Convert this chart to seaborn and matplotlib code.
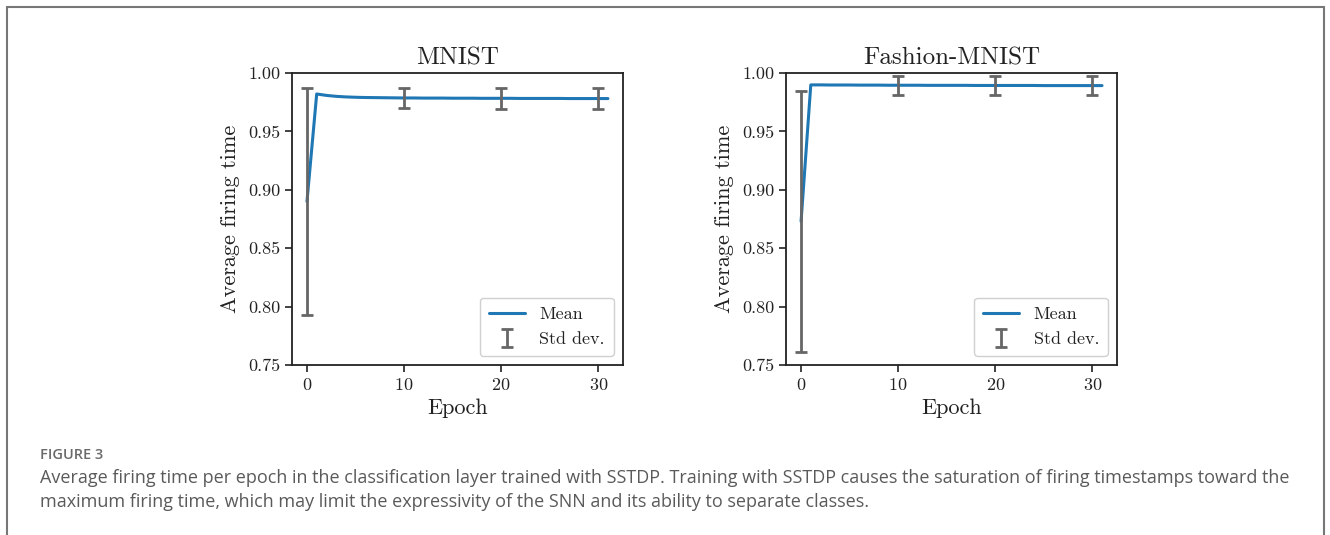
import matplotlib
matplotlib.use("Agg")
import matplotlib.pyplot as plt
import seaborn as sns
import pandas as pd
from matplotlib.lines import Line2D

# ---------------- data ----------------
epochs = list(range(32))
mnist_mean = [0.890, 0.9820, 0.9808, 0.9800, 0.9795, 0.9792, 0.9790, 0.9789,
              0.9788, 0.9787, 0.9786, 0.9786, 0.9785, 0.9785, 0.9785, 0.9784,
              0.9784, 0.9784, 0.9783, 0.9783, 0.9783, 0.9783, 0.9782, 0.9782,
              0.9782, 0.9782, 0.9782, 0.9781, 0.9781, 0.9781, 0.9781, 0.9781]
fashion_mean = [0.873, 0.9898, 0.9898, 0.9897, 0.9897, 0.9897, 0.9896, 0.9896,
                0.9896, 0.9895, 0.9895, 0.9895, 0.9895, 0.9894, 0.9894, 0.9894,
                0.9894, 0.9894, 0.9893, 0.9893, 0.9893, 0.9893, 0.9893, 0.9893,
                0.9893, 0.9892, 0.9892, 0.9892, 0.9892, 0.9892, 0.9892, 0.9892]
err_epochs = [0, 10, 20, 30]
mnist_std = [0.0974, 0.0086, 0.0088, 0.0090]
fashion_std = [0.1118, 0.0083, 0.0083, 0.0083]
titles = ["MNIST", "Fashion-MNIST"]
yticks = [0.75, 0.80, 0.85, 0.90, 0.95, 1.00]
xticks = [0, 10, 20, 30]
caption_head = "FIGURE 3"
caption_lines = [
    "Average firing time per epoch in the classification layer trained with SSTDP. Training with SSTDP causes the saturation of firing timestamps toward the",
    "maximum firing time, which may limit the expressivity of the SNN and its ability to separate classes.",
]

# ---------------- style ----------------
sns.set_theme(style="ticks")
plt.rcParams["font.family"] = ["cmr10", "DejaVu Serif"]
plt.rcParams["mathtext.fontset"] = "cm"
plt.rcParams["axes.formatter.use_mathtext"] = True
plt.rcParams["axes.unicode_minus"] = False

LINE_C = "#1f77b4"
ERR_C = "#666666"

fig = plt.figure(figsize=(13.30, 5.35), dpi=100)

positions = [[0.2195, 0.3178, 0.2489, 0.5458], [0.5910, 0.3178, 0.2489, 0.5458]]
means = [mnist_mean, fashion_mean]
stds = [mnist_std, fashion_std]

for pos, title, mean, std in zip(positions, titles, means, stds):
    ax = fig.add_axes(pos)
    df = pd.DataFrame({"Epoch": epochs, "mean": mean})
    sns.lineplot(data=df, x="Epoch", y="mean", ax=ax, color=LINE_C, lw=2.2, zorder=2)
    err_mean = [mean[epochs.index(e)] for e in err_epochs]
    eb = ax.errorbar(err_epochs, err_mean, yerr=std, fmt="none", ecolor=ERR_C,
                     elinewidth=2.0, capsize=4.0, capthick=2.0, zorder=3)
    ax.set_ylim(0.75, 1.00)
    ax.set_xlim(-1.55, 32.55)
    ax.set_yticks(yticks)
    ax.set_yticklabels([f"{v:.2f}" for v in yticks])
    ax.set_xticks(xticks)
    ax.tick_params(axis="both", labelsize=13, length=5, width=1.2, color="#222222",
                   labelcolor="#222222", direction="out")
    for s in ax.spines.values():
        s.set_linewidth(1.3)
        s.set_color("#222222")
    ax.set_title(title, fontsize=18, color="#222222", pad=6)
    ax.set_xlabel("Epoch", fontsize=16, color="#222222", labelpad=4)
    ax.set_ylabel("Average firing time", fontsize=16, color="#222222", labelpad=6)
    leg = ax.legend([Line2D([], [], color=LINE_C, lw=2.2), eb],
                    ["Mean", "Std dev."], loc="lower right", fontsize=13,
                    frameon=True, fancybox=True, framealpha=1.0,
                    edgecolor="#d0d0d0", borderpad=0.5, handlelength=2.0,
                    labelspacing=0.5, borderaxespad=0.5)
    for t in leg.get_texts():
        t.set_color("#222222")

# caption
fig.text(40 / 1330, 1 - 455 / 535, caption_head, fontsize=10.5, color="#6a6a6a",
         family="Open Sans", fontweight="semibold", va="center", ha="left")
for i, line in enumerate(caption_lines):
    fig.text(40 / 1330, 1 - (478 + 24 * i) / 535, line, fontsize=12.95,
             color="#5a5a5a", family="Open Sans", va="center", ha="left")

# outer frame (left, top, right)
fc = "#777777"
fig.add_artist(Line2D([7 / 1330, 7 / 1330], [0, 1 - 7 / 535], transform=fig.transFigure,
                      color=fc, lw=1.5))
fig.add_artist(Line2D([7 / 1330, 1324 / 1330], [1 - 7 / 535, 1 - 7 / 535],
                      transform=fig.transFigure, color=fc, lw=1.5))
fig.add_artist(Line2D([1324 / 1330, 1324 / 1330], [0, 1 - 7 / 535],
                      transform=fig.transFigure, color=fc, lw=1.5))

fig.savefig("out.png", dpi=100)
